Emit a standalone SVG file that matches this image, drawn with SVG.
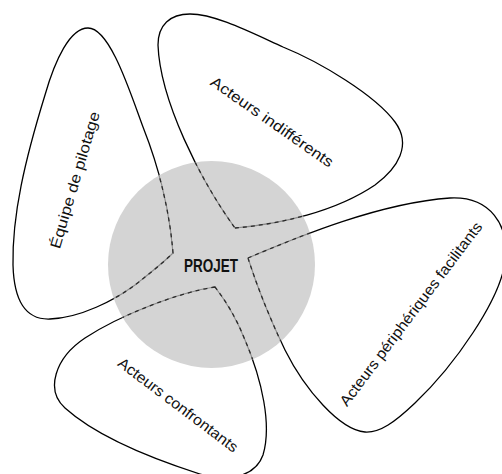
<svg xmlns="http://www.w3.org/2000/svg" xmlns:xlink="http://www.w3.org/1999/xlink" width="502" height="474" viewBox="0 0 502 474">
  <style>
    .lbl { font-family: "Liberation Sans", "DejaVu Sans", sans-serif; font-size: 15px; fill: #111; text-anchor: middle; }
    .center-lbl { font-family: "Liberation Sans", "DejaVu Sans", sans-serif; font-size: 18px; font-weight: bold; fill: #111; text-anchor: middle; }
    .outer { fill: none; stroke: #000; stroke-width: 1.3; stroke-linejoin: round; }
    .inner-base { fill: none; stroke: #8a8a8a; stroke-width: 1.1; }
    .inner { fill: none; stroke: #2a2a2a; stroke-width: 1.3; stroke-dasharray: 4 4; }
  </style>
  <defs>
    <clipPath id="inside">
      <circle cx="211.5" cy="264.5" r="103.5"/>
    </clipPath>
    <clipPath id="outside">
      <path clip-rule="evenodd" d="M-10,-10 H520 V490 H-10 Z M108,264.5 A103.5,103.5 0 1,0 315,264.5 A103.5,103.5 0 1,0 108,264.5 Z"/>
    </clipPath>
    <path id="p1" d="M173,253 C170,215 160,170 143,127 C130,92 110,28 88,28 C70,28 55,60 45,95 C25,160 12,215 13,265 C14,300 25,320 50,319 C80,318 115,300 135,285 C150,273 163,263 173,253 Z"/>
    <path id="p2" d="M235,228 C280,224 335,212 375,185 C398,168 412,145 395,122 C375,95 320,62 283,47 C250,32 215,14 190,14 C170,14 158,25 158,45 C160,100 200,180 235,228 Z"/>
    <path id="p3" d="M248,258 C300,236 380,203 450,198 C490,196 510,225 505,262 C500,300 455,365 415,403 C395,422 380,433 365,432 C340,430 305,390 285,350 C268,315 255,280 248,258 Z"/>
    <path id="p4" d="M215,287 C180,292 120,315 85,338 C55,358 45,390 65,408 C95,435 150,458 200,474 C225,482 255,478 263,455 C272,425 262,380 245,340 C235,315 225,300 215,287 Z"/>
  </defs>

  <rect width="502" height="474" fill="#fff"/>

  <g id="projet">
    <circle cx="211.5" cy="264.5" r="103.5" fill="#d4d4d4"/>
    <text class="center-lbl" x="211" y="272" textLength="54" lengthAdjust="spacingAndGlyphs">PROJET</text>
  </g>

  <g id="equipe-pilotage">
    <use xlink:href="#p1" class="outer" clip-path="url(#outside)"/>
    <use xlink:href="#p1" class="inner-base" clip-path="url(#inside)"/>
    <use xlink:href="#p1" class="inner" clip-path="url(#inside)"/>
    <text class="lbl" transform="translate(75,180) rotate(-73.5)" x="0" y="5" textLength="142" lengthAdjust="spacingAndGlyphs">Équipe de pilotage</text>
  </g>

  <g id="acteurs-indifferents">
    <use xlink:href="#p2" class="outer" clip-path="url(#outside)"/>
    <use xlink:href="#p2" class="inner-base" clip-path="url(#inside)"/>
    <use xlink:href="#p2" class="inner" clip-path="url(#inside)"/>
    <text class="lbl" transform="translate(272,122) rotate(35)" x="0" y="5" textLength="146" lengthAdjust="spacingAndGlyphs">Acteurs indifférents</text>
  </g>

  <g id="acteurs-peripheriques">
    <use xlink:href="#p3" class="outer" clip-path="url(#outside)"/>
    <use xlink:href="#p3" class="inner-base" clip-path="url(#inside)"/>
    <use xlink:href="#p3" class="inner" clip-path="url(#inside)"/>
    <text class="lbl" transform="translate(411,314) rotate(-53)" x="0" y="5" textLength="226" lengthAdjust="spacingAndGlyphs">Acteurs périphériques facilitants</text>
  </g>

  <g id="acteurs-confrontants">
    <use xlink:href="#p4" class="outer" clip-path="url(#outside)"/>
    <use xlink:href="#p4" class="inner-base" clip-path="url(#inside)"/>
    <use xlink:href="#p4" class="inner" clip-path="url(#inside)"/>
    <text class="lbl" transform="translate(178,405) rotate(37)" x="0" y="5" textLength="146" lengthAdjust="spacingAndGlyphs">Acteurs confrontants</text>
  </g>

  <g id="connectors"/>
</svg>
